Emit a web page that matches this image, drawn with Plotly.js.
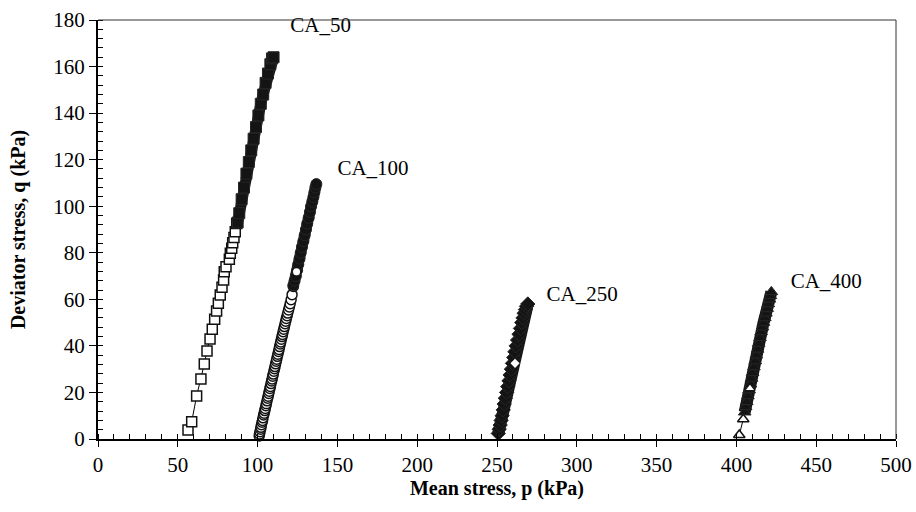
<!DOCTYPE html>
<html>
<head>
<meta charset="utf-8">
<script src="https://cdn.plot.ly/plotly-3.0.1.min.js"></script>
<style>html,body{margin:0;padding:0;background:#fff}#chart{width:916px;height:512px}</style>
</head>
<body>
<div id="chart"></div>
<script>
// CA_50 (squares): sparse open part, then dense black band
const ca50OpenP = [56.4, 58.7, 61.8, 64.5, 66.6, 68.3, 70.2, 71.6, 73.1, 74.3, 75.4, 76.6, 77.7, 78.7, 79.1, 80.2, 82.3, 82.9, 83.8, 84.4, 85.2, 86.0, 86.9];
const ca50OpenQ = [3.9, 7.4, 18.5, 25.8, 32.2, 37.8, 43.0, 47.1, 51.4, 55.0, 58.3, 61.9, 65.2, 68.3, 71.9, 74.0, 77.2, 79.8, 81.9, 84.3, 86.6, 89.0, 92.6];
const ca50BandP = [87.5, 88.5, 90.0, 91.5, 93.0, 94.5, 96.0, 97.5, 99.0, 100.5, 102.0, 103.5, 105.0, 106.5, 108.0, 109.0, 110.0];
const ca50BandQ = [93, 97, 103, 108, 114, 119, 124, 129, 134, 139, 144, 148, 153, 157, 161, 163.5, 164];

// CA_100 (circles)
const ca100OpenP = [101.0, 101.2, 101.5, 101.9, 102.1, 102.4, 102.8, 103.1, 103.4, 103.8, 104.1, 104.5, 104.8, 105.2, 105.5, 105.9, 106.3, 106.6, 107.0, 107.3, 107.7, 108.0, 108.4, 108.8, 109.1, 109.5, 109.8, 110.2, 110.6, 110.9, 111.3, 111.7, 112.0, 112.4, 112.7, 113.1, 113.4, 113.8, 114.2, 114.5, 114.9, 115.3, 115.6, 116.0, 116.4, 116.8, 117.2, 117.6, 118.0, 118.5, 118.9, 119.4, 119.9, 120.4, 121.0, 121.6, 122.4];
const ca100OpenQ = [1.3, 2.2, 3.1, 4.2, 5.0, 6.1, 7.2, 8.0, 9.1, 10.3, 11.1, 12.2, 13.1, 14.3, 15.2, 16.4, 17.5, 18.4, 19.6, 20.5, 21.7, 22.6, 23.8, 24.9, 25.8, 27.0, 27.9, 29.1, 30.2, 31.1, 32.3, 33.4, 34.3, 35.5, 36.4, 37.6, 38.5, 39.7, 40.8, 41.7, 42.9, 44.0, 44.9, 46.1, 47.2, 48.3, 49.5, 50.6, 51.8, 53.0, 54.1, 55.4, 56.7, 58.1, 59.8, 62.0, 65.5];
const ca100BandP = [122.4, 123.2, 124.0, 124.8, 125.5, 126.3, 127.0, 127.8, 128.7, 129.5, 130.3, 131.1, 132.0, 132.8, 133.5, 134.3, 135.0, 135.6, 136.2, 136.8];
const ca100BandQ = [66, 68, 70, 72.5, 75, 77.5, 80, 82.5, 85, 87.5, 90, 92.5, 95, 97.5, 100, 102, 104, 106, 108, 109.5];
const ca100WhiteP = [124.4];
const ca100WhiteQ = [71.9];

// CA_250 (diamonds)
const ca250BandP = [250.8, 251.4, 252.0, 252.6, 253.2, 253.9, 254.5, 255.2, 256.0, 256.7, 257.5, 258.2, 259.0, 259.7, 260.5, 261.2, 262.0, 262.9, 263.8, 264.7, 265.5, 266.3, 267.0, 267.8, 268.5, 269.3];
const ca250BandQ = [2.4, 4.2, 6, 8, 10, 12.5, 15, 17.5, 20, 22.5, 25, 27.5, 30, 32.5, 35, 37.5, 40, 42.5, 45, 47.5, 50, 52, 54, 55.6, 57, 58.0];
const ca250WhiteP = [261.3];
const ca250WhiteQ = [32.5];

// CA_400 (triangles)
const ca400OpenP = [401.8, 404.3];
const ca400OpenQ = [1.7, 8.5];
const ca400BandP = [405.2, 405.8, 406.5, 407.2, 408.0, 408.8, 409.5, 410.2, 411.0, 411.8, 412.5, 413.3, 414.0, 414.8, 415.5, 416.3, 417.0, 417.8, 418.5, 419.3, 420.0, 420.7, 421.3, 421.9];
const ca400BandQ = [11.5, 13.8, 16, 18.5, 21, 23.5, 26, 28.5, 31, 33.5, 36, 38.5, 41, 43.5, 46, 48, 50, 52, 54, 56, 58, 60, 61.5, 63.2];
const ca400WhiteP = [408.5];
const ca400WhiteQ = [21.8];

// Labels
const labelText = ['CA_50', 'CA_100', 'CA_250', 'CA_400'];
const labelP = [120.5, 150, 281, 434];
const labelQ = [177, 115.5, 61.5, 67];

const xTicks = [0, 50, 100, 150, 200, 250, 300, 350, 400, 450, 500];
const yTicks = [0, 20, 40, 60, 80, 100, 120, 140, 160, 180];

function openTrace(x, y, symbol, size) {
  return {x: x, y: y, type: 'scatter', mode: 'lines+markers', cliponaxis: false,
    line: {color: '#000', width: 1},
    marker: {symbol: symbol, size: size, color: '#fff', line: {color: '#111', width: 1.5}},
    showlegend: false, hoverinfo: 'skip'};
}
function bandTrace(x, y, symbol, size, lw) {
  return {x: x, y: y, type: 'scatter', mode: 'lines+markers', cliponaxis: false,
    line: {color: '#141414', width: lw},
    marker: {symbol: symbol, size: size, color: '#141414', line: {color: '#262626', width: 1}},
    showlegend: false, hoverinfo: 'skip'};
}
function whiteTrace(x, y, symbol, size) {
  return {x: x, y: y, type: 'scatter', mode: 'markers', cliponaxis: false,
    marker: {symbol: symbol, size: size, color: '#fff', line: {color: '#111', width: 0}},
    showlegend: false, hoverinfo: 'skip'};
}

const traces = [
  openTrace(ca50OpenP, ca50OpenQ, 'square', 10),
  bandTrace(ca50BandP, ca50BandQ, 'square', 11, 11),
  openTrace(ca100OpenP, ca100OpenQ, 'circle', 10),
  bandTrace(ca100BandP, ca100BandQ, 'circle', 11, 11),
  whiteTrace(ca100WhiteP, ca100WhiteQ, 'circle', 7),
  bandTrace(ca250BandP, ca250BandQ, 'diamond', 11, 12),
  whiteTrace(ca250WhiteP, ca250WhiteQ, 'diamond', 7),
  openTrace(ca400OpenP, ca400OpenQ, 'triangle-up', 10),
  bandTrace(ca400BandP, ca400BandQ, 'triangle-up', 11, 12),
  whiteTrace(ca400WhiteP, ca400WhiteQ, 'triangle-up', 7),
  {x: labelP, y: labelQ, text: labelText, type: 'scatter', mode: 'text', textposition: 'middle right',
   textfont: {family: 'Liberation Serif, Times New Roman, serif', size: 21, color: '#000'},
   cliponaxis: false, showlegend: false, hoverinfo: 'skip'}
];

const serif = "'Liberation Serif', 'Times New Roman', serif";
const layout = {
  width: 916, height: 512,
  margin: {l: 98, r: 20, t: 20, b: 73},
  paper_bgcolor: '#fff', plot_bgcolor: '#fff',
  showlegend: false,
  font: {family: serif, size: 21, color: '#000'},
  xaxis: {
    range: [0, 500], tickvals: xTicks, ticktext: xTicks.map(String),
    showgrid: false, zeroline: false, showline: true, linecolor: '#000', linewidth: 2,
    ticks: 'outside', ticklen: 6, tickwidth: 1, tickcolor: '#000',
    minor: {dtick: 10, ticks: 'inside', ticklen: 5, tickwidth: 1, tickcolor: '#000', showgrid: false},
    tickfont: {family: serif, size: 21, color: '#000'},
    title: {text: '<b>Mean stress, p (kPa)</b>', font: {family: serif, size: 20, color: '#000'}, standoff: 5}
  },
  yaxis: {
    range: [0, 180], tickvals: yTicks, ticktext: yTicks.map(String),
    showgrid: false, zeroline: false, showline: true, linecolor: '#000', linewidth: 2,
    ticks: 'outside', ticklen: 7, tickwidth: 1, tickcolor: '#000',
    minor: {dtick: 4, ticks: 'inside', ticklen: 5, tickwidth: 1, tickcolor: '#000', showgrid: false},
    tickfont: {family: serif, size: 21, color: '#000'},
    title: {text: '<b>Deviator stress, q (kPa)</b>', font: {family: serif, size: 20, color: '#000'}, standoff: 22}
  },
  shapes: [
    {type: 'line', xref: 'paper', yref: 'paper', x0: 0, x1: 1, y0: 1, y1: 1, line: {color: '#333', width: 1}},
    {type: 'line', xref: 'paper', yref: 'paper', x0: 1, x1: 1, y0: 0, y1: 1, line: {color: '#333', width: 1}}
  ]
};

Plotly.newPlot('chart', traces, layout, {displayModeBar: false, staticPlot: true});
</script>
</body>
</html>
